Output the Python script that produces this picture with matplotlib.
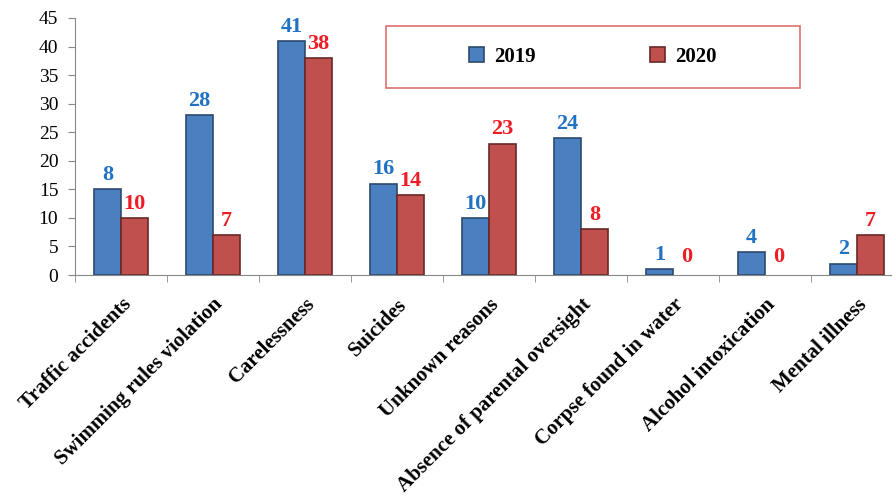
import matplotlib
matplotlib.use('Agg')
import matplotlib.pyplot as plt
import numpy as np
from matplotlib.patches import Rectangle

categories = ['Traffic accidents', 'Swimming rules violation', 'Carelessness', 'Suicides',
              'Unknown reasons', 'Absence of parental oversight', 'Corpse found in water',
              'Alcohol intoxication', 'Mental illness']
# bar heights as drawn
heights_2019 = [15, 28, 41, 16, 10, 24, 1, 4, 2]
heights_2020 = [10, 7, 38, 14, 23, 8, 0, 0, 7]
# value labels as printed
labels_2019 = ['8', '28', '41', '16', '10', '24', '1', '4', '2']
labels_2020 = ['10', '7', '38', '14', '23', '8', '0', '0', '7']
y_ticks = [0, 5, 10, 15, 20, 25, 30, 35, 40, 45]

plt.rcParams['font.family'] = ['Liberation Serif', 'DejaVu Serif']

fig = plt.figure(figsize=(8.93, 5.01), dpi=100)
ax = fig.add_axes([75 / 893, 1 - 275 / 501, (891 - 75) / 893, (275 - 18) / 501])

ind = np.arange(len(categories))
width = 0.29
blue_face, blue_edge = '#4a7fc0', '#2d4a6e'
red_face, red_edge = '#c0504d', '#6a2826'

bars1 = ax.bar(ind - width / 2, heights_2019, width, color=blue_face, edgecolor=blue_edge, linewidth=1.2, label='2019')
bars2 = ax.bar(ind + width / 2, heights_2020, width, color=red_face, edgecolor=red_edge, linewidth=1.2, label='2020')
for b in list(bars1) + list(bars2):
    if b.get_height() == 0:
        b.set_linewidth(0)

for i in range(len(categories)):
    ax.annotate(labels_2019[i], (ind[i] - width / 2, heights_2019[i]), xytext=(0, 3),
                textcoords='offset points', ha='center', va='bottom',
                fontsize=16, fontweight='bold', color='#2272c3')
    off = 6 if heights_2020[i] == 0 else 3
    ax.annotate(labels_2020[i], (ind[i] + width / 2, heights_2020[i]), xytext=(0, off),
                textcoords='offset points', ha='center', va='bottom',
                fontsize=16, fontweight='bold', color='#ee1c25')

ax.set_ylim(0, 45)
ax.set_xlim(-0.5, 8.37)
ax.set_yticks(y_ticks)
ax.tick_params(axis='y', labelsize=14, length=5, color='#888888', direction='out', pad=7)

ax.set_xticks(ind)
ax.set_xticklabels(categories, rotation=45, ha='right', rotation_mode='anchor',
                   fontsize=15, fontweight='bold')
ax.tick_params(axis='x', which='major', length=0, pad=14)
ax.set_xticks(np.arange(len(categories)) - 0.5, minor=True)
ax.tick_params(axis='x', which='minor', length=5, color='#888888', direction='out')

for side in ['top', 'right']:
    ax.spines[side].set_visible(False)
for side in ['left', 'bottom']:
    ax.spines[side].set_color('#888888')

# legend box
fig.patches.append(Rectangle((386 / 893, 1 - 88 / 501), (800 - 386) / 893, 62 / 501,
                             transform=fig.transFigure, fill=False, edgecolor='#e07070', linewidth=1.2))
fig.legend(loc='center', bbox_to_anchor=(593 / 893, 1 - 57 / 501), ncol=2, frameon=False,
           columnspacing=5.5, handlelength=0.7, handleheight=0.7, handletextpad=0.5,
           prop={'weight': 'bold', 'size': 15})

plt.savefig('out.png', dpi=100)
